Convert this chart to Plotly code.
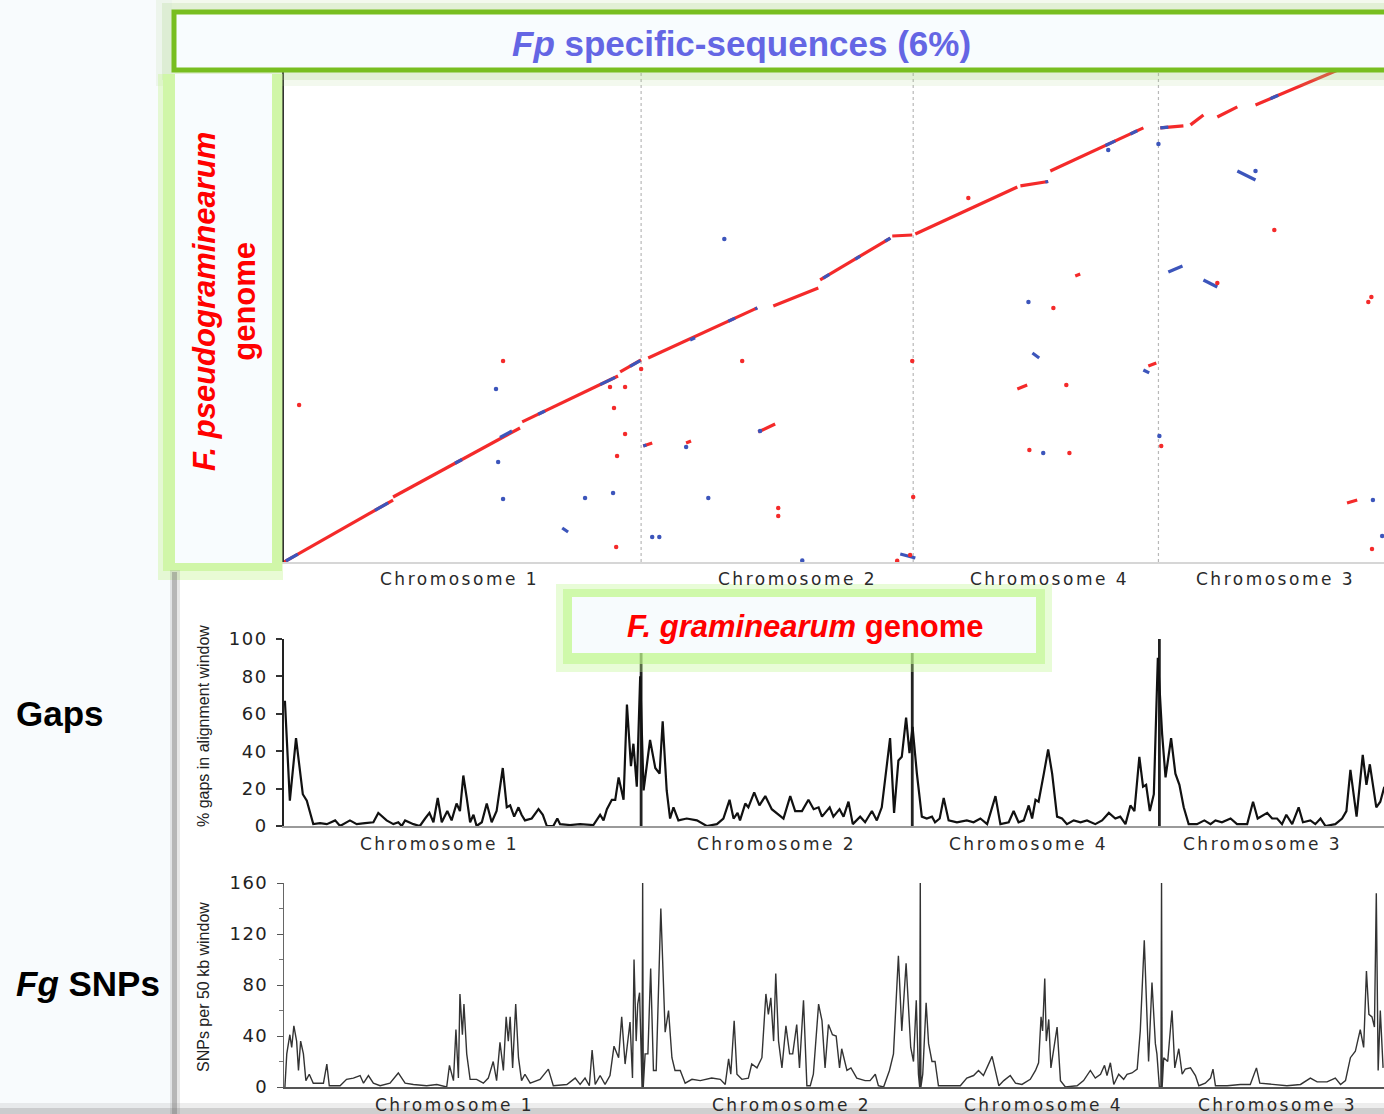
import plotly.graph_objects as go

W, H = 1384, 1114

# ---------------- data ----------------
chrom_names = ["Chromosome 1", "Chromosome 2", "Chromosome 4", "Chromosome 3"]
dot_bounds = [11.59, 20.42, 28.38]          # Fg genome (Mb) chromosome limits in dot plot
gap_bounds = [11.59, 20.39, 28.41]          # limits in the gap profile
dot_label_pos = [5.71, 16.66, 24.84, 32.18]
gap_label_pos = [5.06, 15.97, 24.16, 31.75]
snp_label_pos = [5.52, 16.46, 24.64, 32.24]

# forward matches (red): Fg start, Fg end, Fp start, Fp end (Mb)
fwd_fg0 = [0.00, 3.54, 7.73, 10.91, 11.82, 15.88, 17.40, 19.74, 20.49, 23.90, 24.87, 28.44, 29.42, 30.29, 31.53,
           11.66, 13.05, 15.39, 25.68, 23.80, 28.05, 34.50]
fwd_fg1 = [3.54, 7.66, 10.84, 11.59, 15.36, 17.34, 19.68, 20.39, 23.80, 24.80, 27.89, 29.19, 29.84, 30.94, 34.60,
           11.95, 13.21, 15.94, 25.84, 24.12, 28.31, 34.83]
fwd_fp0 = [0.00, 4.51, 9.72, 13.19, 14.16, 17.77, 19.57, 22.62, 22.76, 26.10, 27.13, 30.12, 30.33, 30.88, 31.71,
           8.05, 8.26, 9.02, 19.85, 12.01, 13.60, 4.09]
fwd_fp1 = [4.30, 9.30, 12.91, 14.02, 17.63, 19.01, 22.48, 22.69, 26.02, 26.40, 30.12, 30.26, 31.02, 31.58, 34.50,
           8.26, 8.40, 9.58, 19.99, 12.28, 13.81, 4.30]

# reverse matches (blue)
rev_fg0 = [0.06, 2.95, 5.55, 7.01, 8.25, 10.26, 11.23, 13.18, 14.42, 15.29, 17.50, 18.54, 19.51, 24.71, 26.66, 27.47,
           28.44, 32.01, 9.03, 30.94, 28.70, 29.84, 24.29, 27.89, 20.00, 11.66]
rev_fg1 = [0.45, 3.38, 5.78, 7.40, 8.47, 10.75, 11.56, 13.34, 14.64, 15.36, 17.70, 18.70, 19.68, 24.80, 26.98, 27.69,
           28.70, 32.27, 9.22, 31.53, 29.16, 30.29, 24.51, 28.08, 20.49, 11.76]
rev_fp0 = [0.07, 3.58, 6.85, 8.64, 10.25, 12.31, 13.58, 15.40, 16.71, 17.56, 19.70, 21.02, 22.26, 26.37, 28.90, 29.70,
           30.12, 32.15, 2.36, 27.13, 20.12, 19.57, 14.50, 13.32, 0.56, 8.05]
rev_fp1 = [0.55, 4.11, 7.11, 9.09, 10.48, 12.81, 13.98, 15.56, 16.92, 17.63, 19.95, 21.23, 22.48, 26.40, 29.22, 29.92,
           30.17, 32.38, 2.08, 26.51, 20.54, 19.08, 14.16, 13.12, 0.28, 8.12]

# isolated short matches
fwd_dot_fg = [0.49, 7.11, 10.78, 10.71, 10.81, 10.58, 11.07, 11.07, 11.59, 14.87, 20.39, 16.04, 16.04, 19.90, 20.32,
              20.42, 22.21, 32.14, 30.29, 35.29, 35.19, 24.97, 25.39, 24.19, 25.49, 28.47, 35.31]
fwd_dot_fp = [10.90, 13.95, 1.04, 10.69, 7.36, 12.14, 12.14, 8.88, 13.39, 13.95, 13.95, 3.75, 3.19, 0.08, 0.49,
              4.51, 25.26, 23.04, 19.36, 18.39, 18.04, 17.63, 12.28, 7.77, 7.56, 8.05, 0.90]
rev_dot_fg = [6.88, 6.95, 7.11, 9.77, 10.68, 13.05, 15.45, 13.77, 11.95, 12.18, 16.82, 14.29, 26.75, 28.38, 31.53,
              24.16, 24.64, 28.41, 35.34, 35.64]
rev_dot_fp = [12.00, 6.94, 4.37, 4.44, 4.79, 7.98, 9.09, 4.44, 1.73, 1.73, 0.10, 22.41, 28.59, 29.01, 27.13,
              18.04, 7.56, 8.74, 4.30, 1.80]

# % gaps in alignment window
gap_pos = [0.03, 0.19, 0.39, 0.61, 0.74, 0.95, 1.17, 1.39, 1.66, 1.82, 2.14, 2.36, 2.63, 2.90, 3.06, 3.33, 3.55, 3.71,
           3.82, 3.93, 4.20, 4.41, 4.58, 4.72, 4.85, 4.99, 5.12, 5.30, 5.44, 5.60, 5.71, 5.82, 5.93, 6.04, 6.15, 6.25,
           6.42, 6.58, 6.74, 6.90, 7.10, 7.23, 7.34, 7.47, 7.61, 7.71, 7.82, 8.04, 8.26, 8.40, 8.53, 8.74, 8.87, 8.96,
           9.28, 9.61, 10.04, 10.26, 10.37, 10.48, 10.64, 10.75, 10.86, 11.02, 11.13, 11.26, 11.34, 11.45, 11.56,
           11.67, 11.88, 12.05, 12.19, 12.29, 12.42, 12.53, 12.64, 12.80, 13.07, 13.40, 13.72, 14.05, 14.26, 14.46,
           14.59, 14.72, 14.80, 14.97, 15.07, 15.26, 15.43, 15.62, 15.83, 16.05, 16.21, 16.43, 16.59, 16.81, 17.02,
           17.19, 17.35, 17.46, 17.71, 17.83, 18.03, 18.16, 18.32, 18.46, 18.70, 18.86, 19.08, 19.24, 19.40, 19.67,
           19.80, 19.94, 20.05, 20.19, 20.30, 20.40, 20.54, 20.70, 20.86, 21.03, 21.13, 21.28, 21.41, 21.57, 21.84,
           22.16, 22.38, 22.60, 22.82, 23.09, 23.25, 23.52, 23.68, 23.84, 24.01, 24.17, 24.28, 24.39, 24.49, 24.66,
           24.80, 24.93, 25.09, 25.25, 25.41, 25.63, 25.85, 26.06, 26.33, 26.55, 26.77, 26.98, 27.14, 27.31, 27.47,
           27.60, 27.76, 27.88, 27.98, 28.10, 28.23, 28.36, 28.50, 28.61, 28.79, 28.93, 29.06, 29.20, 29.36, 29.63,
           29.87, 30.07, 30.23, 30.44, 30.72, 30.93, 31.26, 31.45, 31.60, 31.91, 32.07, 32.23, 32.39, 32.53, 32.72,
           32.93, 33.07, 33.31, 33.47, 33.64, 33.80, 34.12, 34.34, 34.48, 34.61, 34.81, 35.01, 35.13, 35.24, 35.45,
           35.58, 35.71]
gap_pct = [67, 13.5, 47, 17, 13.5, 1, 1.5, 1, 3, 0, 3, 1, 1.5, 2, 7, 3, 1, 2,
           0, 3, 1, 0, 4, 7, 2, 15, 2, 8, 3, 12, 8, 27, 15, 2, 6, 0,
           2, 12, 2, 8, 31, 10, 11, 5, 10, 6, 3, 4, 9, 6, 0, 0, 4, 1,
           0.5, 1, 0.5, 6, 3, 9, 14, 14, 26, 14, 65, 32, 44, 21, 80,
           19, 46, 31, 28, 56, 19, 4, 10, 3, 4, 3, 0, 1, 4, 14,
           4, 7, 3, 12, 10, 18, 11, 16, 9, 6, 4, 16, 8, 8, 14,
           9, 10, 5, 10, 5, 9, 5, 13, 1, 5, 2, 8, 3, 10, 47,
           7, 35, 37, 58, 39, 53, 28, 5, 4, 5, 2, 4, 15, 3, 2,
           3, 2, 4, 1, 16, 1, 2, 8, 2, 3, 11, 4, 14, 13, 28,
           41, 28, 5, 4, 1, 3, 2, 3, 1, 3, 7, 4, 5, 1, 11,
           8, 37, 21, 22, 8, 17, 90, 49, 26, 47, 28, 22, 10, 1, 1,
           3, 1, 3, 2, 4, 1, 1, 13, 4, 7, 4, 4, 1, 6, 1,
           10, 2, 3, 1, 4, 0, 1, 4, 8, 30, 5, 38, 22, 33, 10,
           13, 21]

# SNPs per 50 kb window
snp_pos = [0.03, 0.09, 0.19, 0.25, 0.32, 0.41, 0.47, 0.54, 0.63, 0.71, 0.82, 0.95, 1.28, 1.39, 1.47, 1.82, 2.03, 2.25,
           2.47, 2.58, 2.74, 2.90, 3.12, 3.44, 3.71, 3.93, 4.20, 4.63, 4.96, 5.28, 5.37, 5.50, 5.58, 5.66, 5.71, 5.79,
           5.84, 5.93, 6.04, 6.25, 6.47, 6.63, 6.79, 6.90, 7.01, 7.12, 7.21, 7.28, 7.34, 7.42, 7.52, 7.61, 7.71, 7.82,
           7.99, 8.31, 8.58, 8.74, 9.18, 9.45, 9.61, 9.77, 9.91, 10.00, 10.10, 10.26, 10.42, 10.58, 10.71, 10.86,
           10.96, 11.07, 11.23, 11.31, 11.36, 11.43, 11.48, 11.54, 11.59, 11.62, 11.64, 11.66, 11.72, 11.81, 11.90,
           11.99, 12.08, 12.23, 12.37, 12.48, 12.59, 12.69, 12.86, 13.02, 13.24, 13.51, 13.88, 14.16, 14.32, 14.43,
           14.50, 14.61, 14.70, 14.86, 15.07, 15.18, 15.35, 15.51, 15.64, 15.72, 15.80, 15.89, 15.96, 16.05, 16.16,
           16.29, 16.41, 16.51, 16.64, 16.73, 16.86, 16.97, 17.08, 17.18, 17.35, 17.46, 17.56, 17.67, 17.80, 17.92,
           18.03, 18.10, 18.27, 18.40, 18.59, 18.86, 19.02, 19.19, 19.29, 19.46, 19.65, 19.78, 19.94, 20.05, 20.19,
           20.34, 20.43, 20.52, 20.59, 20.63, 20.65, 20.67, 20.73, 20.84, 20.92, 21.03, 21.13, 21.24, 21.51, 21.95,
           22.16, 22.38, 22.54, 22.70, 22.98, 23.09, 23.20, 23.36, 23.57, 23.74, 23.95, 24.22, 24.39, 24.49, 24.57,
           24.62, 24.69, 24.74, 24.82, 24.89, 24.98, 25.09, 25.20, 25.36, 25.74, 25.95, 26.17, 26.33, 26.50, 26.63,
           26.71, 26.82, 26.93, 27.09, 27.25, 27.36, 27.52, 27.69, 27.79, 27.92, 28.06, 28.17, 28.28, 28.33, 28.41,
           28.46, 28.48, 28.50, 28.55, 28.68, 28.82, 28.91, 29.04, 29.15, 29.25, 29.42, 29.58, 29.69, 29.90, 30.07,
           30.15, 30.23, 30.61, 31.04, 31.36, 31.56, 31.67, 32.01, 32.55, 32.99, 33.31, 33.53, 33.85, 34.12, 34.29,
           34.45, 34.61, 34.77, 34.93, 35.04, 35.13, 35.21, 35.31, 35.39, 35.45, 35.51, 35.58, 35.67]
snp_count = [0, 26, 41, 31, 48, 36, 13, 36, 26, 5, 10, 3, 3, 18, 1, 1, 6, 7,
             9, 3, 9, 3, 1, 3, 11, 3, 2, 1, 2, 0, 17, 5, 45, 7, 73, 41,
             65, 26, 6, 6, 3, 7, 20, 5, 35, 13, 55, 36, 55, 15, 65, 23, 5, 10,
             3, 6, 14, 1, 2, 7, 2, 7, 1, 29, 2, 9, 2, 9, 32, 23,
             55, 18, 51, 7, 100, 36, 65, 74, 28, 0, 160, 0, 26, 26, 93,
             13, 13, 140, 43, 60, 23, 13, 13, 3, 6, 5, 7, 6, 2, 22,
             10, 52, 10, 6, 7, 18, 15, 23, 73, 57, 70, 36, 89, 36, 15,
             48, 26, 26, 49, 15, 68, 1, 1, 10, 65, 52, 15, 49, 41, 40,
             15, 30, 13, 15, 7, 5, 5, 10, 1, 0, 13, 26, 103, 44, 97,
             31, 20, 68, 10, 0, 160, 0, 10, 66, 34, 20, 20, 1, 1, 1,
             7, 9, 13, 9, 24, 13, 1, 5, 9, 3, 2, 6, 13, 19, 55,
             44, 85, 36, 53, 15, 28, 47, 5, 0, 1, 5, 13, 7, 10, 17,
             9, 19, 2, 10, 6, 10, 11, 14, 44, 115, 20, 82, 34, 26, 0,
             0, 160, 0, 23, 20, 60, 15, 30, 10, 14, 15, 9, 1, 3, 7,
             14, 1, 1, 2, 2, 15, 3, 2, 1, 2, 7, 4, 4, 7, 2,
             5, 23, 28, 45, 31, 91, 57, 55, 47, 152, 13, 60, 15]

gap_ticks = [0, 20, 40, 60, 80, 100]
snp_ticks = [0, 40, 80, 120, 160]
snp_minor = [20, 60, 100, 140]

RED = "#f42a2a"
BLUE = "#3c55bb"


def segs(x0, x1, y0, y1):
    xs, ys = [], []
    for a, b, c, d in zip(x0, x1, y0, y1):
        xs += [a, b, None]
        ys += [c, d, None]
    return xs, ys


def PX(x):
    return x / W


def PY(y):
    return 1 - y / H


fig = go.Figure()

rx, ry = segs(fwd_fg0, fwd_fg1, fwd_fp0, fwd_fp1)
bx, by = segs(rev_fg0, rev_fg1, rev_fp0, rev_fp1)
fig.add_trace(go.Scatter(x=rx, y=ry, mode="lines", line=dict(color=RED, width=3.2),
                         xaxis="x", yaxis="y", hoverinfo="skip"))
fig.add_trace(go.Scatter(x=bx, y=by, mode="lines", line=dict(color=BLUE, width=3.2),
                         xaxis="x", yaxis="y", hoverinfo="skip"))
fig.add_trace(go.Scatter(x=fwd_dot_fg, y=fwd_dot_fp, mode="markers", marker=dict(color=RED, size=4.5),
                         xaxis="x", yaxis="y", hoverinfo="skip"))
fig.add_trace(go.Scatter(x=rev_dot_fg, y=rev_dot_fp, mode="markers", marker=dict(color=BLUE, size=4.5),
                         xaxis="x", yaxis="y", hoverinfo="skip"))

# gap profile
gbx, gby = [], []
for b in gap_bounds:
    gbx += [b, b, None]
    gby += [0, 100, None]
fig.add_trace(go.Scatter(x=gbx, y=gby, mode="lines", line=dict(color="#222", width=2.8),
                         xaxis="x2", yaxis="y2", hoverinfo="skip"))
fig.add_trace(go.Scatter(x=gap_pos, y=gap_pct, mode="lines", line=dict(color="#111", width=2.2),
                         xaxis="x2", yaxis="y2", hoverinfo="skip"))

# SNP profile
fig.add_trace(go.Scatter(x=snp_pos, y=snp_count, mode="lines", line=dict(color="#333", width=1.4),
                         xaxis="x3", yaxis="y3", hoverinfo="skip"))

xdom = [PX(284), 1]
common_x = dict(domain=xdom, range=[0, 35.7], showgrid=False, zeroline=False, showticklabels=False,
                ticks="", fixedrange=True, automargin=False)

DIG = "DejaVu Sans"
fig.update_layout(
    width=W, height=H, autosize=False,
    margin=dict(l=0, r=0, t=0, b=0, pad=0, autoexpand=False),
    paper_bgcolor="white", plot_bgcolor="rgba(0,0,0,0)",
    showlegend=False,
    xaxis=dict(**common_x, anchor="y", showline=True, linecolor="#d6d6d6", linewidth=2),
    yaxis=dict(domain=[PY(562), PY(72)], range=[0, 34], showgrid=False, zeroline=False, automargin=False,
               showticklabels=False, showline=True, linecolor="#333", linewidth=2, anchor="x"),
    xaxis2=dict(**common_x, anchor="y2", showline=True, linecolor="#9a9a9a", linewidth=1.5),
    yaxis2=dict(domain=[PY(826), PY(639)], range=[0, 100], anchor="x2", showgrid=False, zeroline=False,
                automargin=False,
                showline=True, linecolor="#222", linewidth=1.5, ticks="outside", ticklen=6, tickwidth=1.5,
                tickcolor="#333", tickvals=gap_ticks,
                ticktext=['<span style="letter-spacing:1.5px">%d</span>' % v for v in gap_ticks],
                tickfont=dict(family=DIG, size=18, color="#222"), ticklabelstandoff=5),
    xaxis3=dict(**common_x, anchor="y3", showline=True, linecolor="#555", linewidth=1.5),
    yaxis3=dict(domain=[PY(1087), PY(883)], range=[0, 160], anchor="x3", showgrid=False, zeroline=False,
                automargin=False,
                showline=True, linecolor="#666", linewidth=1.2, ticks="outside", ticklen=6, tickwidth=1.2,
                tickcolor="#555", tickvals=snp_ticks,
                ticktext=['<span style="letter-spacing:1.5px">%d</span>' % v for v in snp_ticks],
                tickfont=dict(family=DIG, size=18, color="#222"), ticklabelstandoff=5,
                minor=dict(tickvals=snp_minor, ticks="outside", ticklen=4, tickcolor="#777", tickwidth=1)),
)

shapes = []


def rect(x0, y0, x1, y1, fill, layer="above", line=None):
    d = dict(type="rect", xref="paper", yref="paper", x0=PX(x0), x1=PX(x1), y0=PY(y1), y1=PY(y0),
             fillcolor=fill, layer=layer, line=dict(width=0))
    if line:
        d["line"] = line
    shapes.append(d)


# left strip background
rect(0, 0, 172, 1114, "#f8fbfd", layer="below")

# chromosome separators in dot plot
for b in dot_bounds:
    shapes.append(dict(type="line", xref="x", yref="paper", x0=b, x1=b, y0=PY(562), y1=PY(72),
                       line=dict(color="#b8b8b8", width=1.2, dash="dot"), layer="below"))

# title box with glow
rect(156, 0, 1400, 86, "rgba(160,205,120,0.13)")
rect(162, 3, 1400, 80, "rgba(160,205,120,0.20)")
rect(174, 12, 1400, 70, "#f8fcfe", line=dict(color="#78be20", width=5))

# left (Fp) box with glow
rect(158, 74, 283, 580, "rgba(200,246,150,0.40)")
rect(163, 74, 282, 571, "#d0f6a8")
rect(175, 74, 272, 563, "#f8fcfe")

# F. graminearum box with glow
rect(556, 584, 1052, 672, "rgba(190,246,140,0.35)")
rect(563, 589, 1045, 664, "rgba(190,246,140,0.60)")
rect(572, 597, 1036, 653, "#f7fbfd")

# panel frame shading (left edge and bottom)
rect(170, 570, 180, 1114, "rgba(120,120,120,0.18)")
rect(172, 572, 177, 1114, "rgba(110,110,110,0.40)")
rect(0, 1103, 1384, 1114, "rgba(130,130,130,0.14)")
rect(0, 1108, 1384, 1114, "rgba(120,120,120,0.25)")

fig.update_layout(shapes=shapes)

ann = []
ARIAL = "Liberation Sans"


def label(x, y, text, size, color, xref="paper", xanchor="center", angle=0, family=ARIAL):
    ann.append(dict(x=x, y=y, xref=xref, yref="paper", text=text, showarrow=False, xanchor=xanchor,
                    yanchor="middle", textangle=angle, font=dict(family=family, size=size, color=color)))


label(PX(741), PY(43), "<b><i>Fp</i> specific-sequences (6%)</b>", 35, "#6466e4")
label(PX(224), PY(302), "<b><i>F. pseudograminearum</i><br>genome</b>", 31, "#ff0000", angle=-90)
label(PX(805), PY(626), "<b><i>F. graminearum</i> genome</b>", 31, "#ff0000")
label(PX(14), PY(713), "<b>Gaps</b>", 35, "#000", xanchor="left")
label(PX(14), PY(983), "<b><i>Fg</i> SNPs</b>", 35, "#000", xanchor="left")
label(PX(203), PY(726), "% gaps in alignment window", 16, "#222", angle=-90)
label(PX(203), PY(987), "SNPs per 50 kb window", 16, "#222", angle=-90)

CH = '<span style="letter-spacing:2.5px">%s</span>'
for name, xp in zip(chrom_names, dot_label_pos):
    label(xp, PY(579), CH % name, 17, "#2a2a2a", xref="x", family=DIG)
for name, xp in zip(chrom_names, gap_label_pos):
    label(xp, PY(844), CH % name, 17, "#2a2a2a", xref="x2", family=DIG)
for name, xp in zip(chrom_names, snp_label_pos):
    label(xp, PY(1105), CH % name, 17, "#2a2a2a", xref="x3", family=DIG)

fig.update_layout(annotations=ann)

fig.write_html("out.html", config={"displayModeBar": False},
               post_script="document.body.style.margin='0';document.body.style.overflow='hidden';")
